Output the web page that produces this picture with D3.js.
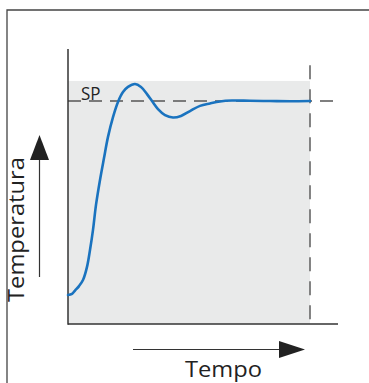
<!DOCTYPE html>
<html><head><meta charset="utf-8">
<script src="https://cdn.jsdelivr.net/npm/d3@7"></script>
<style>html,body{margin:0;padding:0;background:#fff;}svg{display:block;}</style>
</head><body>
<script>
// Data
const time = [0,0.4,0.7,1.1,1.5,1.9,2.2,2.5,2.8,3.2,3.6,4.0,4.5,5.0,5.5,6.0,6.7,7.3,7.9,8.4,9.0,9.7,10.5,11.3,12.2,13.2,14.2,15.2,16.4,18.2,20.2,22.2,24.2];
const temperature = [13.0,13.5,15.0,17.0,19.7,25.6,33.2,42.2,53.4,64.6,74.4,83.9,92.8,99.6,104.0,106.3,107.6,106.3,103.1,100,96.4,93.7,92.6,93.3,95.5,97.8,98.9,99.8,100.2,100.1,100.0,99.9,100];
const setpoint = 100;
const windowEnd = 24.2;
const xDomain = [0, 27];
const yDomain = [0, 100];
const shadeTop = 109;
const yAxisTop = 123.3;
const markerTop = 116;
const labels = {sp: "SP", x: "Tempo", y: "Temperatura"};

const W = 369, H = 383;
const FONT = "'Open Sans', 'DejaVu Sans', sans-serif";
const svg = d3.select("body").append("svg").attr("width", W).attr("height", H);
const x = d3.scaleLinear().domain(xDomain).range([68, 338]);
const y = d3.scaleLinear().domain(yDomain).range([324, 101]);

// outer frame
svg.append("path").attr("d", `M7,${H} L7,10 L${W},10`).attr("fill","none").attr("stroke","#444").attr("stroke-width",1.3);

// shaded window
svg.append("rect").attr("x", x(0)).attr("y", y(shadeTop)).attr("width", x(windowEnd)-x(0)).attr("height", y(0)-y(shadeTop)).attr("fill","#e9eaea");

// setpoint dashed line
svg.append("line").attr("x1", x(0)).attr("x2", x(xDomain[1])).attr("y1", y(setpoint)).attr("y2", y(setpoint))
  .attr("stroke","#555").attr("stroke-width",1.3).attr("stroke-dasharray","13,8");

// vertical dashed marker
svg.append("line").attr("x1", x(windowEnd)).attr("x2", x(windowEnd)).attr("y1", y(markerTop)).attr("y2", y(0)-2)
  .attr("stroke","#777").attr("stroke-width",1.8).attr("stroke-dasharray","14,10");

// axes
svg.append("line").attr("x1", x(0)).attr("x2", x(0)).attr("y1", y(yAxisTop)).attr("y2", y(0)+0.7).attr("stroke","#333").attr("stroke-width",1.5);
svg.append("line").attr("x1", x(0)).attr("x2", x(xDomain[1])).attr("y1", y(0)).attr("y2", y(0)).attr("stroke","#333").attr("stroke-width",1.5);

// curve
const line = d3.line().x((d,i)=>x(time[i])).y((d,i)=>y(temperature[i])).curve(d3.curveCatmullRom.alpha(0.5));
svg.append("path").datum(temperature).attr("d", line).attr("fill","none").attr("stroke","#1a73bf").attr("stroke-width",2.6).attr("stroke-linecap","round");

// SP label
svg.append("text").attr("x", 81).attr("y", 99.5).text(labels.sp)
  .attr("font-family",FONT).attr("font-size",17.5).attr("fill","#222")
  .attr("textLength",19.5).attr("lengthAdjust","spacingAndGlyphs");

// x arrow
svg.append("line").attr("x1",133).attr("x2",282).attr("y1",349.5).attr("y2",349.5).attr("stroke","#333").attr("stroke-width",1.2);
svg.append("path").attr("d","M279,341 L305,349.5 L279,358 Z").attr("fill","#222");
svg.append("text").attr("x",185).attr("y",377).text(labels.x)
  .attr("font-family",FONT).attr("font-size",21.5).attr("fill","#222")
  .attr("textLength",77).attr("lengthAdjust","spacingAndGlyphs");

// y arrow
svg.append("line").attr("x1",39.5).attr("x2",39.5).attr("y1",158).attr("y2",277).attr("stroke","#333").attr("stroke-width",1.2);
svg.append("path").attr("d","M30,160 L39.5,135 L49,160 Z").attr("fill","#222");
svg.append("text").attr("transform","translate(24,302) rotate(-90)").text(labels.y)
  .attr("font-family",FONT).attr("font-size",21.5).attr("fill","#222")
  .attr("textLength",145).attr("lengthAdjust","spacingAndGlyphs");
</script>
</body></html>
